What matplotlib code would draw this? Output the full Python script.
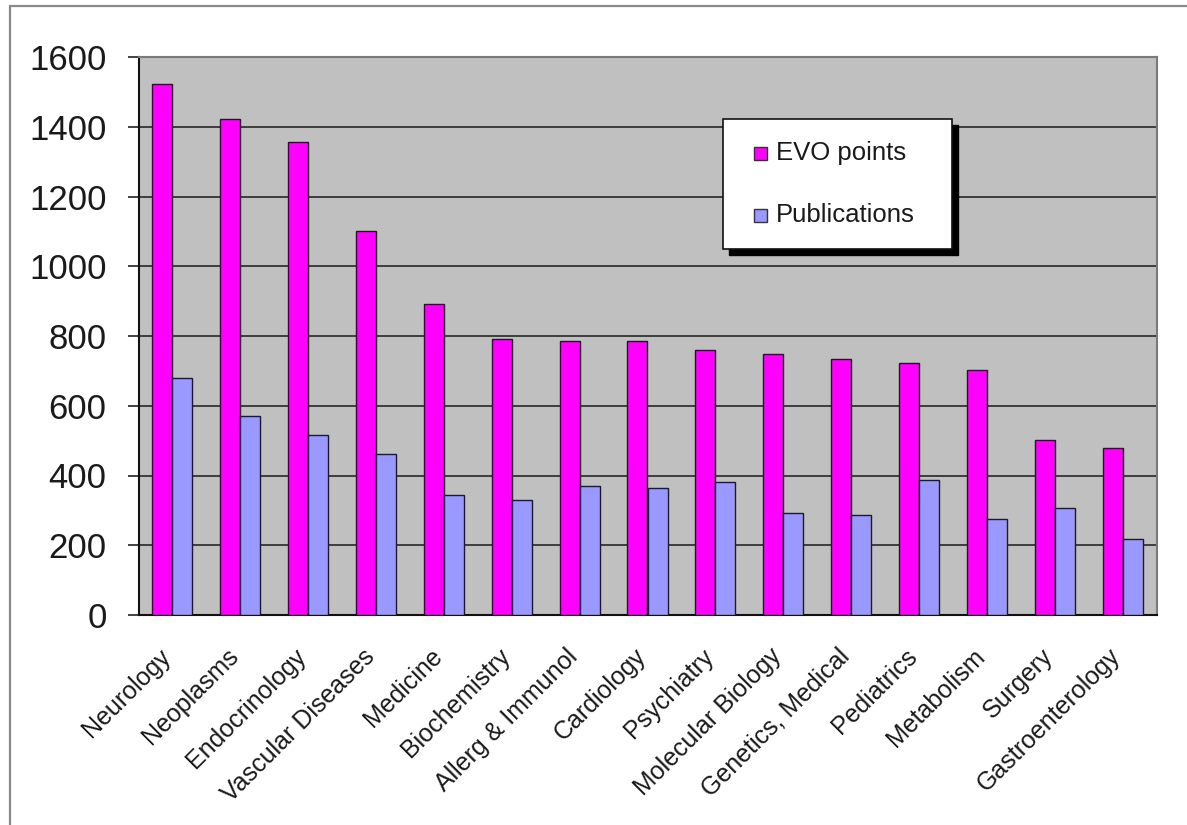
import matplotlib
matplotlib.use("Agg")
import matplotlib.pyplot as plt
import numpy as np
from matplotlib.patches import Rectangle

categories = ["Neurology", "Neoplasms", "Endocrinology", "Vascular Diseases", "Medicine",
              "Biochemistry", "Allerg & Immunol", "Cardiology", "Psychiatry",
              "Molecular Biology", "Genetics, Medical", "Pediatrics", "Metabolism",
              "Surgery", "Gastroenterology"]
evo_points = [1522, 1422, 1356, 1101, 893, 791, 785, 785, 759, 748, 733, 724, 702, 501, 479]
publications = [681, 571, 515, 463, 345, 329, 369, 364, 381, 293, 288, 386, 276, 308, 219]
series_names = ["EVO points", "Publications"]
y_ticks = [0, 200, 400, 600, 800, 1000, 1200, 1400, 1600]

W, H = 1187, 825
plt.rcParams['font.family'] = ['Liberation Sans', 'DejaVu Sans']
fig = plt.figure(figsize=(W / 100, H / 100), dpi=100)

def fx(px):
    return px / W

def fy(py):
    return 1 - py / H

# outer chart frame
fig.add_artist(Rectangle((fx(10), fy(900)), fx(1300), fy(6) - fy(900), transform=fig.transFigure,
                         facecolor='none', edgecolor='#8a8a8a', linewidth=1.6, zorder=0))

left, right, top, bottom = 138.5, 1156.5, 57, 615
ax = fig.add_axes([fx(left), fy(bottom), fx(right - left), fy(top) - fy(bottom)])
ax.set_facecolor('#c0c0c0')

x = np.arange(len(categories))
bw = 0.295
magenta = '#ff00ff'
lilac = '#9999ff'
ax.bar(x - bw / 2, evo_points, width=bw, color=magenta, edgecolor='#1a1a1a', linewidth=1.0, zorder=3)
ax.bar(x + bw / 2, publications, width=bw, color=lilac, edgecolor='#1a1a2a', linewidth=1.0, zorder=3)

ax.set_xlim(-0.5, len(categories) - 0.5)
ax.set_ylim(0, 1600)
ax.set_yticks(y_ticks)
ax.set_yticklabels([str(v) for v in y_ticks], fontsize=25, color='#1a1a1a')
ax.yaxis.grid(True, color='#333333', linewidth=1.3, zorder=1)
ax.set_axisbelow(True)
ax.tick_params(axis='y', length=8, width=1.2, color='#222222', pad=15)
ax.tick_params(axis='x', length=0, pad=21)
ax.set_xticks(x)
ax.set_xticklabels(categories, rotation=45, ha='right', va='top', rotation_mode='anchor',
                   fontsize=18, color='#1a1a1a')
for lbl in ax.get_xticklabels():
    lbl.set_transform(lbl.get_transform() + matplotlib.transforms.ScaledTranslation(-14 / 100, 0, fig.dpi_scale_trans))

for s in ['left', 'bottom']:
    ax.spines[s].set_color('#111111')
    ax.spines[s].set_linewidth(1.5)
for s in ['top', 'right']:
    ax.spines[s].set_color('#7a7a7a')
    ax.spines[s].set_linewidth(1.5)

# legend (manual box with Excel-like shadow)
lx0, ly0, lx1, ly1 = 723, 119, 952, 249
sh = 6
fig.add_artist(Rectangle((fx(lx0 + sh), fy(ly1 + sh)), fx(lx1 - lx0), fy(ly0) - fy(ly1),
                         transform=fig.transFigure, facecolor='black', edgecolor='black', zorder=10))
fig.add_artist(Rectangle((fx(lx0), fy(ly1)), fx(lx1 - lx0), fy(ly0) - fy(ly1),
                         transform=fig.transFigure, facecolor='white', edgecolor='#111111',
                         linewidth=1.2, zorder=11))
rows = [153, 215]
for name, color, ry in zip(series_names, [magenta, lilac], rows):
    fig.add_artist(Rectangle((fx(754), fy(ry + 7)), fx(13), fy(ry - 6) - fy(ry + 7),
                             transform=fig.transFigure, facecolor=color, edgecolor='#333333',
                             linewidth=1.0, zorder=12))
    fig.text(fx(776), fy(ry), name, fontsize=18.5, color='#1a1a1a', ha='left', va='center', zorder=12)

fig.savefig('out.png', dpi=100, facecolor='white')
